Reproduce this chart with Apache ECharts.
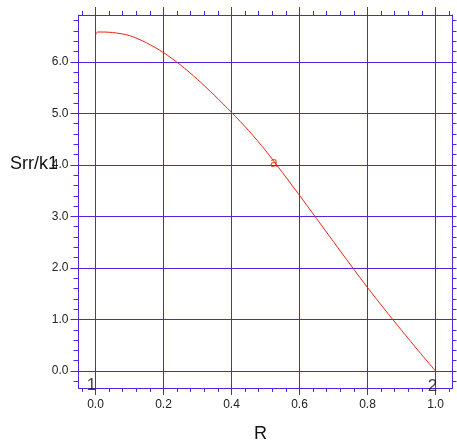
<!DOCTYPE html>
<html>
<head>
<meta charset="utf-8">
<script src="https://cdn.jsdelivr.net/npm/echarts@6/dist/echarts.min.js"></script>
<style>
html, body { margin: 0; padding: 0; background: #fff; }
#chart { width: 457px; height: 445px; }
</style>
</head>
<body>
<div id="chart"></div>
<script>
// curve Srr/k1 along R
var rValues   = [0, 0.006, 0.05, 0.1, 0.15, 0.2, 0.25, 0.3, 0.35, 0.4, 0.45, 0.5, 0.55, 0.6, 0.65, 0.7, 0.75, 0.8, 0.85, 0.9, 0.95, 1.0];
var srrValues = [6.52, 6.58, 6.57, 6.51, 6.37, 6.18, 5.94, 5.66, 5.35, 5.02, 4.67, 4.28, 3.85, 3.41, 2.96, 2.51, 2.06, 1.62, 1.20, 0.79, 0.39, 0.0];

var xTickLabels = [0, 0.2, 0.4, 0.6, 0.8, 1.0];
var yTickLabels = [0, 1, 2, 3, 4, 5, 6];
var xMinorTicks = [];
for (var i = -1; i <= 26; i++) xMinorTicks.push(+(i * 0.04).toFixed(2));
var yMinorTicks = [];
for (var j = -1; j <= 34; j++) yMinorTicks.push(+(j * 0.2).toFixed(1));

// node numbers and curve label, in data coords
var nodeNames  = ['1', '2'];
var nodeR      = [-0.012, 0.991];
var nodeS      = [-0.27, -0.29];
var curveNames = ['a'];
var curveR     = [0.525];
var curveS     = [4.04];

var lineColor = '#5522e0';
var xMin = -0.05, xMax = 1.05, yMin = -0.33, yMax = 6.91;

var myChart = echarts.init(document.getElementById('chart'), null, { renderer: 'canvas' });

// half pixel on the left so the vertical lines land crisp
var rect = { left: 78.5, top: 15, width: 374, height: 373, outerBoundsMode: 'none', containLabel: false };

function xAx(grid, pos, ticks, len, labels, split, line) {
    return {
        type: 'value', gridIndex: grid, position: pos, min: xMin, max: xMax,
        axisLine: { show: line, onZero: false, lineStyle: { color: lineColor, width: 1 } },
        axisTick: { show: true, inside: false, length: len, customValues: ticks, lineStyle: { color: lineColor, width: 1 } },
        axisLabel: {
            show: labels, customValues: xTickLabels, margin: 11,
            color: '#222', fontFamily: 'Liberation Sans', fontSize: 12,
            formatter: function (v) { return v.toFixed(1); }
        },
        splitLine: { show: split, lineStyle: { color: lineColor, width: 1 } }
    };
}
function yAx(grid, pos, ticks, len, labels, split, line) {
    return {
        type: 'value', gridIndex: grid, position: pos, min: yMin, max: yMax,
        axisLine: { show: line, onZero: false, lineStyle: { color: lineColor, width: 1 } },
        axisTick: { show: true, inside: false, length: len, customValues: ticks, lineStyle: { color: lineColor, width: 1 } },
        axisLabel: {
            show: labels, customValues: yTickLabels, margin: 10,
            color: '#222', fontFamily: 'Liberation Sans', fontSize: 12,
            formatter: function (v) { return v.toFixed(1); }
        },
        splitLine: { show: split, lineStyle: { color: lineColor, width: 1 } }
    };
}

var curveData = [];
for (var k = 0; k < rValues.length; k++) curveData.push([rValues[k], srrValues[k]]);
var nodeData = [];
for (var n = 0; n < nodeNames.length; n++) nodeData.push({ name: nodeNames[n], value: [nodeR[n], nodeS[n]] });
var labelData = [];
for (var m = 0; m < curveNames.length; m++) labelData.push({ name: curveNames[m], value: [curveR[m], curveS[m]] });

var option = {
    animation: false,
    backgroundColor: '#fff',
    grid: [
        Object.assign({}, rect),
        Object.assign({}, rect)
    ],
    xAxis: [
        xAx(0, 'bottom', xTickLabels, 7, true, true, true),
        xAx(0, 'top', xTickLabels, 8, false, false, true),
        xAx(1, 'bottom', xMinorTicks, 4, false, false, false),
        xAx(1, 'top', xMinorTicks, 4, false, false, false)
    ],
    yAxis: [
        yAx(0, 'left', yTickLabels, 8, true, true, true),
        yAx(0, 'right', yMinorTicks, 4, false, false, true),
        yAx(1, 'left', yMinorTicks, 5, false, false, false)
    ],
    series: [
        {
            type: 'line', xAxisIndex: 0, yAxisIndex: 0,
            data: curveData, showSymbol: false, smooth: 0.3,
            lineStyle: { color: '#ee2211', width: 1 }
        },
        {
            type: 'scatter', xAxisIndex: 0, yAxisIndex: 0,
            data: nodeData, symbolSize: 0,
            label: { show: true, position: 'inside', formatter: '{b}', color: '#111', fontFamily: 'Liberation Sans', fontSize: 17 }
        },
        {
            type: 'scatter', xAxisIndex: 0, yAxisIndex: 0,
            data: labelData, symbolSize: 0,
            label: { show: true, position: 'inside', formatter: '{b}', color: '#ee2211', fontFamily: 'Liberation Sans', fontSize: 14 }
        }
    ],
    graphic: [
        { type: 'text', left: 10, top: 155, style: { text: 'Srr/k1', fill: '#111', font: '18px "Liberation Sans"' } },
        { type: 'text', left: 254, top: 425, style: { text: 'R', fill: '#111', font: '18px "Liberation Sans"' } }
    ]
};

myChart.setOption(option);
</script>
</body>
</html>
